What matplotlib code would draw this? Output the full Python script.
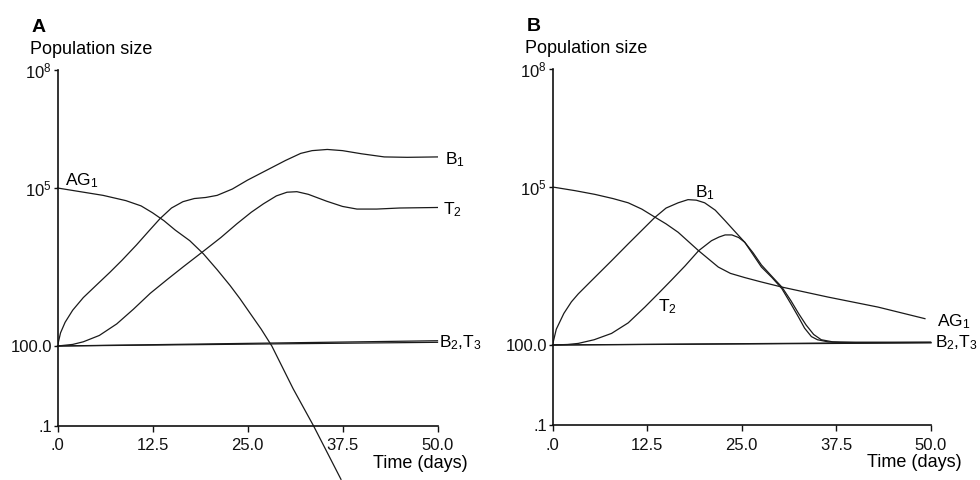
import numpy as np
import matplotlib.pyplot as plt
from matplotlib.ticker import NullLocator

plt.rcParams['font.family'] = ['Liberation Sans', 'DejaVu Sans']
plt.rcParams['mathtext.fontset'] = 'custom'
plt.rcParams['mathtext.rm'] = 'Liberation Sans'
plt.rcParams['mathtext.it'] = 'Liberation Sans'

# values are log10(population size)
# panel A
t_a_ag1 = [0, 3, 6, 9, 11, 12.5, 14, 15.5, 17.4, 19.2, 21, 22.7, 24, 25.3, 26.8, 28.2, 31.0, 33.7, 37.3]
a_ag1 = [5.0, 4.93, 4.86, 4.76, 4.66, 4.53, 4.38, 4.2, 4.0, 3.75, 3.45, 3.15, 2.9, 2.63, 2.32, 2.0, 0.4, -1.0, -3.0]
t_a_b1 = [0, 0.4, 1, 2, 3.4, 5, 6.9, 8.5, 10.4, 12, 13.5, 15, 16.5, 18, 19.5, 21, 23, 25, 27.5, 30, 32, 33.5, 35.5, 37.5, 40, 43, 46, 50]
a_b1 = [2.0, 2.25, 2.45, 2.68, 2.92, 3.14, 3.4, 3.63, 3.92, 4.18, 4.42, 4.62, 4.74, 4.8, 4.82, 4.86, 4.98, 5.2, 5.45, 5.7, 5.88, 5.95, 5.98, 5.95, 5.87, 5.79, 5.78, 5.79]
t_a_t2 = [0, 2, 3.4, 5.5, 7.8, 10, 12.2, 14.5, 16.6, 19.2, 21.5, 23.6, 25.5, 27.1, 28.8, 30.2, 31.5, 33, 35.4, 37.5, 39.4, 42, 45, 50]
a_t2 = [2.0, 2.03, 2.08, 2.2, 2.42, 2.7, 3.0, 3.27, 3.51, 3.8, 4.06, 4.32, 4.54, 4.7, 4.85, 4.92, 4.93, 4.88, 4.75, 4.65, 4.6, 4.6, 4.62, 4.63]
t_a_flat = [0, 50]
a_b2 = [2.0, 2.1]
a_t3 = [2.0, 2.07]

# panel B
t_b_ag1 = [0, 3, 5.6, 8, 10, 11.8, 13.5, 15, 16.6, 19.3, 21.9, 23.5, 25.4, 27.5, 30.3, 36.4, 43, 49.2]
b_ag1 = [5.0, 4.93, 4.86, 4.78, 4.70, 4.58, 4.43, 4.3, 4.14, 3.79, 3.48, 3.36, 3.28, 3.2, 3.10, 2.91, 2.72, 2.50]
t_b_b1 = [0, 0.5, 1.5, 2.5, 3.4, 5, 7.8, 10, 13.5, 15, 16.6, 17.9, 19, 20.1, 21.5, 22.8, 24, 25.4, 27.6, 29, 30.3, 31.5, 32.5, 33.3, 34.2, 35, 36.4, 38, 42, 50]
b_b1 = [2.0, 2.3, 2.6, 2.82, 2.97, 3.2, 3.6, 3.92, 4.42, 4.6, 4.70, 4.76, 4.75, 4.70, 4.56, 4.36, 4.17, 3.95, 3.48, 3.28, 3.07, 2.78, 2.53, 2.32, 2.16, 2.1, 2.06, 2.05, 2.05, 2.05]
t_b_t2 = [0, 2, 3.4, 5.5, 7.8, 10, 12.2, 14, 15.7, 17.5, 19.3, 21, 22, 22.8, 23.7, 24.6, 25.4, 26.5, 27.6, 29, 30.3, 31.5, 32.5, 33.5, 34.5, 35.5, 37, 40, 50]
b_t2 = [2.0, 2.01, 2.03, 2.1, 2.22, 2.42, 2.72, 2.98, 3.23, 3.5, 3.79, 3.98, 4.05, 4.09, 4.09, 4.04, 3.95, 3.75, 3.52, 3.3, 3.1, 2.84, 2.6, 2.38, 2.2, 2.1, 2.06, 2.05, 2.05]
t_b_flat = [0, 50]
b_b2 = [2.0, 2.05]
b_t3 = [2.0, 2.04]

x_ticks = [0, 12.5, 25, 37.5, 50]
x_labels = ['.0', '12.5', '25.0', '37.5', '50.0']
y_ticks = [0.1, 100, 1e5, 1e8]
y_labels = ['.1', '100.0', r'$\mathregular{10^5}$', r'$\mathregular{10^8}$']

# the printed axis is not evenly spaced per decade
knot_log = [-300, -1, 2, 5, 8, 300]
knot_pos = [-299 * 80 / 3, 0, 80, 238, 356, 356 + 292 * 118 / 3]

def fwd(y):
	y = np.asarray(y, dtype=float)
	l = np.log10(np.where(y > 0, y, 1e-300))
	return np.interp(l, knot_log, knot_pos)

def inv(p):
	return 10 ** np.interp(p, knot_pos, knot_log)

fig = plt.figure(figsize=(9.8, 4.8), dpi=100)
ax_a = fig.add_axes([57.5 / 980, 54 / 480, 380 / 980, 356 / 480])
ax_b = fig.add_axes([552.5 / 980, 55 / 480, 378.5 / 980, 356 / 480])

def style(ax, letter):
	ax.set_yscale('function', functions=(fwd, inv))
	ax.set_xlim(0, 50)
	ax.set_ylim(0.1, 1e8)
	ax.set_xticks(x_ticks)
	ax.set_xticklabels(x_labels)
	ax.set_yticks(y_ticks)
	ax.set_yticklabels(y_labels)
	ax.yaxis.set_minor_locator(NullLocator())
	ax.xaxis.set_minor_locator(NullLocator())
	for s in ['top', 'right']:
		ax.spines[s].set_visible(False)
	for s in ['left', 'bottom']:
		ax.spines[s].set_linewidth(1.2)
		ax.spines[s].set_color('#111111')
	ax.tick_params(axis='x', direction='out', length=4, width=1, pad=5, labelsize=12, colors='#111111')
	ax.tick_params(axis='y', direction='out', length=3, width=1, pad=1, labelsize=12, colors='#111111')
	ax.text(-0.068, 1.118, letter, transform=ax.transAxes, fontsize=14, fontweight='bold', ha='left', va='center')
	ax.text(-0.073, 1.058, 'Population size', transform=ax.transAxes, fontsize=13, ha='left', va='center')
	ax.text(1.08, -0.105, 'Time (days)', transform=ax.transAxes, fontsize=13, ha='right', va='center')

def draw(ax, t, v, clip=True):
	ax.plot(t, 10 ** np.array(v), color='#1a1a1a', linewidth=0.9, clip_on=clip)

style(ax_a, 'A')
draw(ax_a, t_a_ag1, a_ag1, clip=False)
draw(ax_a, t_a_b1, a_b1)
draw(ax_a, t_a_t2, a_t2)
draw(ax_a, t_a_flat, a_b2, clip=False)
draw(ax_a, t_a_flat, a_t3, clip=False)
ax_a.text(1.0, 10 ** 5.18, r'AG$_1$', fontsize=12.5, ha='left', va='center')
ax_a.text(51.0, 10 ** 5.72, r'B$_1$', fontsize=12.5, ha='left', va='center')
ax_a.text(50.7, 10 ** 4.58, r'T$_2$', fontsize=12.5, ha='left', va='center')
ax_a.text(50.2, 10 ** 2.06, r'B$_2$,T$_3$', fontsize=12.5, ha='left', va='center')

style(ax_b, 'B')
draw(ax_b, t_b_ag1, b_ag1)
draw(ax_b, t_b_b1, b_b1)
draw(ax_b, t_b_t2, b_t2)
draw(ax_b, t_b_flat, b_b2, clip=False)
draw(ax_b, t_b_flat, b_t3, clip=False)
ax_b.text(18.8, 10 ** 4.9, r'B$_1$', fontsize=12.5, ha='left', va='center')
ax_b.text(13.9, 10 ** 2.72, r'T$_2$', fontsize=12.5, ha='left', va='center')
ax_b.text(50.8, 10 ** 2.44, r'AG$_1$', fontsize=12.5, ha='left', va='center')
ax_b.text(50.5, 10 ** 2.04, r'B$_2$,T$_3$', fontsize=12.5, ha='left', va='center')

plt.savefig('out.png', dpi=100)
plt.close()
